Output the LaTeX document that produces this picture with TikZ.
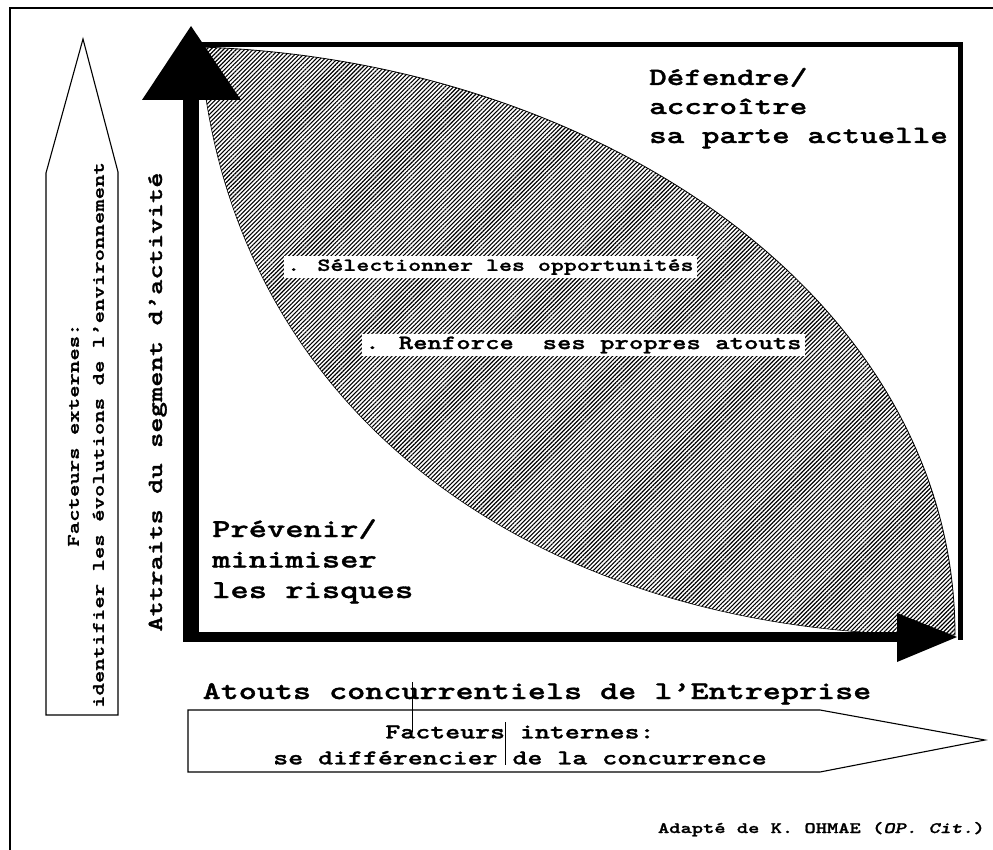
\documentclass[tikz,border=0pt]{standalone}
\usepackage{fontspec}
\newfontfamily\cour[Extension=.otf, FakeStretch=1.35, FakeBold=1.3, ItalicFont=lmmonolt10-boldoblique]{lmmonolt10-bold}
\usetikzlibrary{patterns.meta}
\newcommand{\fs}[2]{\fontsize{#1}{#2}\selectfont}
\newcommand{\stkl}[1]{\begin{tabular}[t]{@{}l@{}}#1\end{tabular}}
\tikzset{
  lbl/.style={inner sep=0pt, text=black},
  outline/.style={draw=black, line width=1.1pt},
  hatch/.style={pattern={Lines[angle=45,distance=3pt,line width=1.1pt]}, pattern color=black},
  whitebox/.style={fill=white, inner sep=3pt},
  scanmark/.style={draw=black, line width=0.6pt}
}
\begin{document}
\begin{tikzpicture}[x=1pt,y=-1pt]
\useasboundingbox (0,0) rectangle (993,850);
% outer frame (partly outside the page)
\draw[line width=1.5pt] (10,850) -- (10,8) -- (993,8);

% hatched lens
\path[hatch] (200,47) .. controls (600,60) and (955,300) .. (955,635)
   .. controls (560,640) and (230,430) .. (200,47) -- cycle;
\draw[line width=0.8pt] (200,47) .. controls (600,60) and (955,300) .. (955,635);
\draw[line width=0.6pt] (955,635) .. controls (560,640) and (230,430) .. (200,47);

% plot frame (top and right)
\draw[line width=5pt] (196,44.5) -- (960,44.5) -- (960,640);
% axes
\draw[line width=16pt] (191,95) -- (191,642);
\draw[line width=10pt] (183,637) -- (900,637);
\fill (191,26) -- (142,100) -- (241,100) -- cycle;
\fill (957,637) -- (897,613) -- (897,662) -- cycle;

% outline arrows
\draw[outline] (46,715) -- (46,173) -- (83,39) -- (118,172) -- (118,715) -- cycle;
\draw[outline] (188,710) -- (820,710) -- (985,740) -- (820,772) -- (188,772) -- cycle;

% texts
\node[lbl, anchor=base west, font={\cour\fs{24.8}{29}}] (def) at (649,85)
  {\stkl{Défendre/\\accroître\\sa parte actuelle}};
\node[lbl, anchor=base west, font={\cour\fs{25.8}{30.5}}] (prev) at (212,537)
  {\stkl{Prévenir/\\minimiser\\les risques}};
\node[whitebox, anchor=west, font={\cour\fs{18.3}{22}}] (sel) at (284,267)
  {. Sélectionner les opportunités};
\node[whitebox, anchor=west, font={\cour\fs{20.3}{24}}] (ren) at (362,345)
  {. Renforce\ \ ses propres atouts};
\node[lbl, anchor=base, font={\cour\fs{25.5}{30}}] (atouts) at (537,699)
  {Atouts concurrentiels de l’Entreprise};
\node[lbl, anchor=base, rotate=90, font={\cour\fs{21.6}{25}}] (attr) at (162,402)
  {Attraits du segment d’activité};
\node[lbl, rotate=90, align=center, font={\cour\fs{17.5}{25}}] (ext) at (86,435)
  {Facteurs externes:\\identifier les évolutions de l’environnement};
\node[lbl, align=center, font={\cour\fs{21.1}{26}}] (int) at (520,745)
  {Facteurs internes:\\se différencier de la concurrence};
\node[lbl, anchor=base east, font={\cour\fs{15.9}{18}}] (src) at (985,833)
  {Adapté de K. OHMAE (\textit{OP. Cit.})};

% scan marks crossing the texts
\draw[scanmark] (412,682) -- (412,732);
\draw[scanmark] (505,722) -- (505,765);
\end{tikzpicture}
\end{document}
